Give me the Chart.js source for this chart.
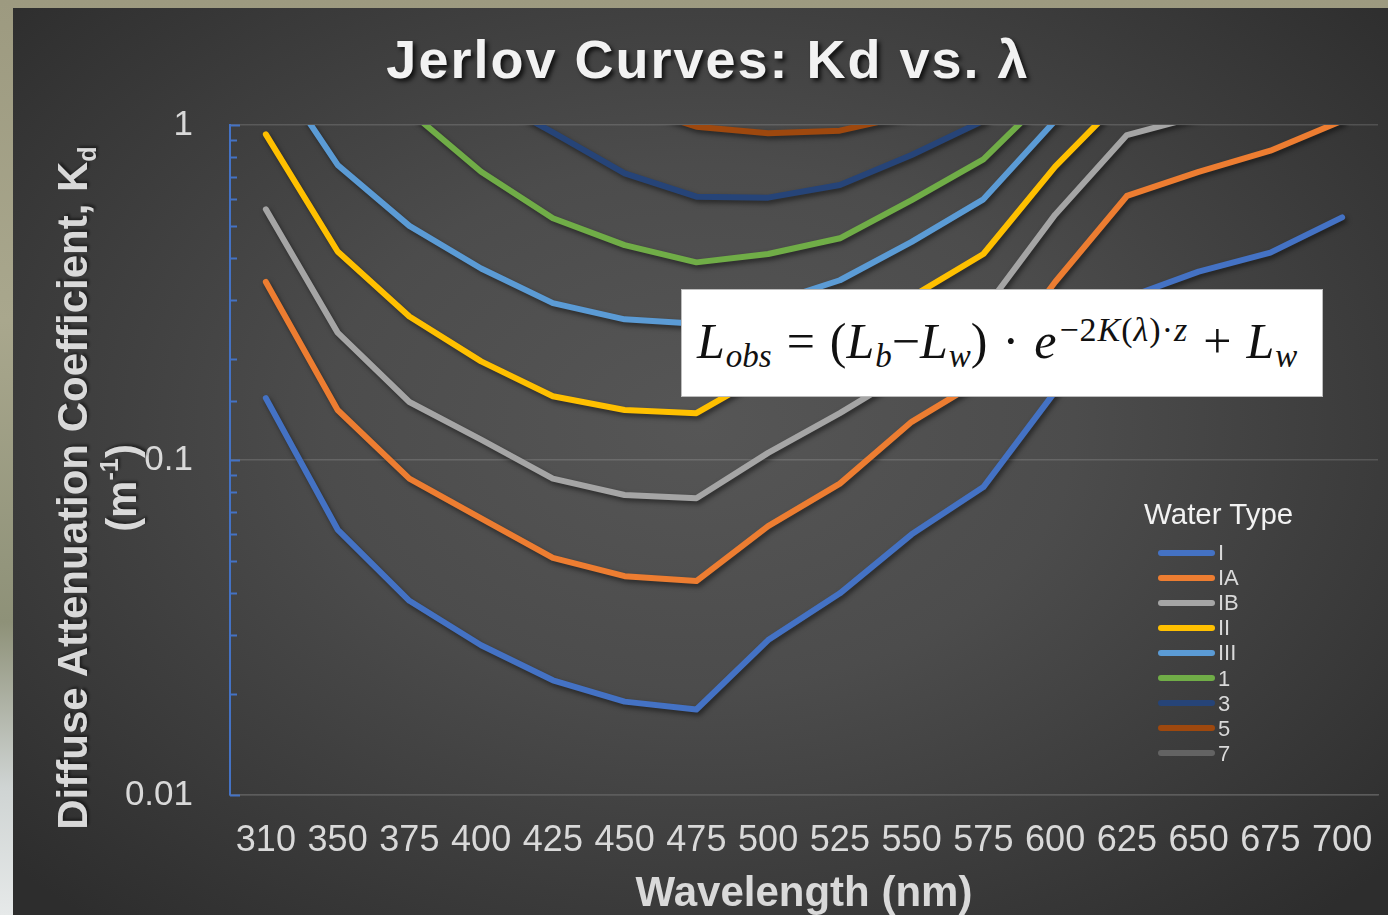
<!DOCTYPE html>
<html>
<head>
<meta charset="utf-8">
<title>Jerlov Curves: Kd vs. λ</title>
<script src="https://cdn.jsdelivr.net/npm/chart.js@4.4.1/dist/chart.umd.min.js"></script>
<style>
  html, body {
    margin: 0; padding: 0; width: 1388px; height: 915px; overflow: hidden;
    background: linear-gradient(180deg, #9d9a80 0%, #a9a78d 35%, #8e9178 68%, #cfd4d3 86%, #e6e9e9 100%);
    font-family: "Liberation Sans", Arial, sans-serif;
  }
  #panel {
    position: absolute; left: 13px; top: 8px; width: 1375px; height: 907px;
    background: radial-gradient(ellipse 68% 72% at 50% 46%, #565656 0%, #4c4c4c 40%, #3a3a3a 75%, #2d2d2d 100%);
  }
  #chartWrap { position: absolute; left: 0; top: 0; width: 1388px; height: 915px; }
  #mainTitle {
    position: absolute; left: 0; top: 32px; width: 1416px; text-align: center;
    font: bold 54px/54px "Liberation Sans", Arial, sans-serif; letter-spacing: 2px;
    color: #f2f2f2; text-shadow: 3px 3px 4px rgba(0,0,0,0.75);
  }
  #yTitle {
    position: absolute; left: -265px; top: 444px; width: 720px; height: 88px;
    transform: rotate(-90deg); transform-origin: 50% 50%;
    text-align: center; font: bold 42px/44px "Liberation Sans", Arial, sans-serif;
    color: #d9d9d9; text-shadow: 2px 2px 3px rgba(0,0,0,0.5); white-space: nowrap;
  }
  #yTitle .sub { font-size: 60%; position: relative; top: 0.35em; }
  #yTitle .sup { font-size: 60%; position: relative; top: -0.7em; }
  #eqBox {
    position: absolute; left: 681px; top: 289px; width: 640px; height: 106px;
    background: #ffffff; border: 1px solid #bdbdbd;
  }
  #eq {
    position: absolute; left: 15px; top: 26px; white-space: nowrap;
    font: italic 50px/50px "Liberation Serif", "Times New Roman", serif; color: #111;
  }
  #eq .n { font-style: normal; }
  #eq .op { font-style: normal; margin: 0 15px; }
  #eq .sb { font-size: 66%; position: relative; top: 0.28em; margin-left: 1px; }
  #eq .sp { font-size: 68%; position: relative; top: -0.5em; margin-left: 3px; letter-spacing: 1px; }
  #legend { position: absolute; left: 1144px; top: 499px; width: 220px; height: 270px; }
  #legend .lt { position: absolute; left: 0; top: 0; font: 29.5px/30px "Liberation Sans", Arial, sans-serif; color: #f2f2f2; white-space: nowrap; }
  #legend .it { position: absolute; left: 14px; height: 25px; display: flex; align-items: center; }
  #legend .sw { display: inline-block; width: 57px; height: 6px; border-radius: 3px; margin-right: 3px; }
  #legend .lb { font: 22px/25px "Liberation Sans", Arial, sans-serif; color: #d9d9d9; }
</style>
</head>
<body>
<div id="panel"></div>
<div id="chartWrap"><canvas id="c" width="1388" height="915"></canvas></div>
<div id="mainTitle">Jerlov Curves: Kd vs. λ</div>
<div id="yTitle">Diffuse Attenuation Coefficient, K<span class="sub">d</span><br>(m<span class="sup">-1</span>)</div>
<div id="eqBox">
  <div id="eq">L<span class="sb">obs</span><span class="op">=</span><span class="n">(</span>L<span class="sb">b</span><span class="n">−</span>L<span class="sb">w</span><span class="n">)</span><span class="op">·</span>e<span class="sp"><span class="n">−2</span>K<span class="n">(</span>λ<span class="n">)·</span>z</span><span class="op">+</span>L<span class="sb">w</span></div>
</div>
<div id="legend"><div class="lt">Water Type</div></div>

<script>
// ---- Data ----
const categories = ['310','350','375','400','425','450','475','500','525','550','575','600','625','650','675','700'];
const seriesNames = ['I','IA','IB','II','III','1','3','5','7'];

const kdI   = [0.153, 0.062, 0.038, 0.028, 0.022, 0.019, 0.018, 0.029, 0.040, 0.060, 0.083, 0.160, 0.305, 0.365, 0.416, 0.530];
const kdIA  = [0.340, 0.141, 0.088, 0.067, 0.051, 0.045, 0.0435, 0.0635, 0.085, 0.130, 0.175, 0.340, 0.614, 0.725, 0.838, 1.03];
const kdIB  = [0.560, 0.240, 0.149, 0.115, 0.088, 0.0786, 0.0769, 0.105, 0.138, 0.186, 0.279, 0.540, 0.933, 1.064, 1.20, 1.40];
const kdII  = [0.938, 0.419, 0.268, 0.197, 0.155, 0.141, 0.138, 0.183, 0.236, 0.307, 0.412, 0.751, 1.24, 1.40, 1.60, 1.90];
const kdIII = [1.59, 0.760, 0.500, 0.373, 0.294, 0.263, 0.255, 0.293, 0.344, 0.448, 0.600, 1.03, 1.40, 1.60, 1.80, 2.10];
const kd1   = [3.20, 1.80, 1.10, 0.725, 0.527, 0.438, 0.389, 0.412, 0.459, 0.597, 0.790, 1.28, 1.70, 1.90, 2.10, 2.40];
const kd3   = [6.0, 3.0, 1.8, 1.25, 0.95, 0.717, 0.611, 0.607, 0.662, 0.814, 1.03, 1.60, 2.00, 2.20, 2.50, 2.90];
const kd5   = [9.0, 4.5, 2.8, 2.0, 1.5, 1.16, 0.988, 0.945, 0.962, 1.075, 1.40, 2.00, 2.50, 2.80, 3.10, 3.50];
const kd7   = [12.0, 6.5, 4.2, 3.0, 2.2, 1.8, 1.55, 1.45, 1.45, 1.55, 1.80, 2.50, 3.10, 3.40, 3.70, 4.20];

const yTickValues = [0.01, 0.1, 1];

// ---- Styles ----
const seriesColors = ['#4472C4','#ED7D31','#A5A5A5','#FFC000','#5B9BD5','#70AD47','#264478','#9E480E','#636363'];
const seriesData = [kdI, kdIA, kdIB, kdII, kdIII, kd1, kd3, kd5, kd7];

Chart.defaults.font.family = '"Liberation Sans", Arial, sans-serif';

function majorOf(v) {
  return yTickValues.find(t => Math.abs(Math.log10(v) - Math.log10(t)) < 1e-6);
}

const lineShadow = {
  id: 'lineShadow',
  beforeDatasetsDraw(chart) {
    const ctx = chart.ctx;
    ctx.save();
    ctx.shadowColor = 'rgba(0,0,0,0.5)';
    ctx.shadowBlur = 5;
    ctx.shadowOffsetX = 2;
    ctx.shadowOffsetY = 3;
  },
  afterDatasetsDraw(chart) { chart.ctx.restore(); }
};

const insideTicks = {
  id: 'insideTicks',
  afterDraw(chart) {
    const y = chart.scales.y;
    const ctx = chart.ctx;
    ctx.save();
    ctx.strokeStyle = '#4472C4';
    ctx.lineWidth = 2;
    y.ticks.forEach(t => {
      const py = Math.round(y.getPixelForValue(t.value)) + 0.5;
      const len = majorOf(t.value) !== undefined ? 10 : 7;
      ctx.beginPath();
      ctx.moveTo(y.right, py);
      ctx.lineTo(y.right + len, py);
      ctx.stroke();
    });
    ctx.restore();
  }
};

const chart = new Chart(document.getElementById('c'), {
  type: 'line',
  data: {
    labels: categories,
    datasets: seriesData.map((d, i) => ({
      label: seriesNames[i],
      data: d,
      borderColor: seriesColors[i],
      backgroundColor: seriesColors[i],
      borderWidth: 6,
      pointRadius: 0,
      pointHoverRadius: 0,
      tension: 0,
      fill: false,
      borderCapStyle: 'round',
      borderJoinStyle: 'round',
      order: seriesNames.length - i
    }))
  },
  options: {
    responsive: false,
    animation: false,
    layout: { padding: { top: 125, right: 10, left: 0, bottom: 0 } },
    plugins: {
      legend: { display: false },
      title: { display: false },
      tooltip: { enabled: false }
    },
    scales: {
      x: {
        type: 'category',
        offset: true,
        grid: { display: false, drawTicks: true, tickLength: 22 },
        border: { display: true, color: '#5c5c5c', width: 1.5 },
        ticks: { color: '#d9d9d9', font: { size: 36 }, padding: 2, maxRotation: 0, autoSkip: false },
        title: { display: true, text: 'Wavelength (nm)', color: '#d9d9d9', font: { size: 42, weight: 'bold', lineHeight: 1.0 }, padding: { top: 0, bottom: 0 } },
        afterFit(scale) { scale.height = 120; }
      },
      y: {
        type: 'logarithmic',
        min: 0.01,
        max: 1,
        grid: {
          drawTicks: false,
          color: ctx => (ctx.tick && majorOf(ctx.tick.value) !== undefined) ? 'rgba(255,255,255,0.14)' : 'rgba(0,0,0,0)',
          lineWidth: 1.5
        },
        border: { display: true, color: '#4472C4', width: 2 },
        ticks: {
          color: '#d9d9d9',
          font: { size: 35 },
          padding: 37,
          autoSkip: false,
          callback: v => { const m = majorOf(v); return m !== undefined ? String(m) : ''; }
        },
        afterFit(scale) { scale.width = 230; }
      }
    }
  },
  plugins: [lineShadow, insideTicks]
});

// HTML legend built from the chart's datasets
const legend = document.getElementById('legend');
chart.data.datasets.forEach((ds, i) => {
  const it = document.createElement('div');
  it.className = 'it';
  it.style.top = (41 + i * 25.1) + 'px';
  const sw = document.createElement('span');
  sw.className = 'sw';
  sw.style.background = ds.borderColor;
  const lb = document.createElement('span');
  lb.className = 'lb';
  lb.textContent = ds.label;
  it.appendChild(sw); it.appendChild(lb);
  legend.appendChild(it);
});
</script>
</body>
</html>
